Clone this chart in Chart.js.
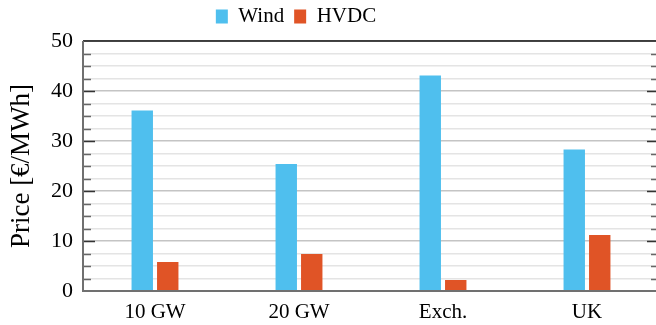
<!DOCTYPE html>
<html>
<head>
<meta charset="utf-8">
<script src="https://cdn.jsdelivr.net/npm/chart.js@4"></script>
<style>
html, body { margin: 0; padding: 0; overflow: hidden; background: #fff; }
#wrap { width: 665px; height: 325px; }
</style>
</head>
<body>
<div id="wrap"><canvas id="chart"></canvas></div>
<script>
// ================= DATA =================
const categories = ["10 GW", "20 GW", "Exch.", "UK"];
const windPrice = [36.1, 25.4, 43.1, 28.3];
const hvdcPrice = [5.8, 7.4, 2.2, 11.2];
const yTicks = [0, 10, 20, 30, 40, 50];

const FONT = "'Liberation Serif', 'Times New Roman', serif";

// ================= FRAME + TICK MARKS =================
const framePlugin = {
id: "frame",
afterLayout(chart){
    // legend sits left of centre in the reference, and a bit higher
    const lg = chart.legend;
    const w = lg.right - lg.left;
    const c = 296;
    lg.left = c - w/2;
    lg.right = c + w/2;
    lg.top -= 4;
    lg.bottom -= 4;
},
afterDraw(chart){
    const ctx = chart.ctx;
    const a = chart.chartArea;
    const y = chart.scales.y;
    ctx.save();

    // minor/major tick marks, inside on both sides
    for(let v = 2.5; v < 50; v += 2.5){
        const py = Math.round(y.getPixelForValue(v)) + 0.5;
        const major = v % 10 === 0;
        const len = major ? 12 : 8;
        ctx.strokeStyle = major ? "#333" : "#666";
        ctx.lineWidth = 1.5;
        ctx.beginPath();
        ctx.moveTo(a.left, py); ctx.lineTo(a.left + len, py);
        ctx.moveTo(a.right, py); ctx.lineTo(a.right - len, py);
        ctx.stroke();
    }

    // top border
    ctx.strokeStyle = "#111";
    ctx.lineWidth = 1.5;
    ctx.beginPath();
    ctx.moveTo(a.left, a.top); ctx.lineTo(a.right, a.top);
    ctx.stroke();

    // left and bottom axis
    ctx.strokeStyle = "#707070";
    ctx.lineWidth = 2;
    ctx.beginPath();
    ctx.moveTo(a.left, a.top); ctx.lineTo(a.left, a.bottom);
    ctx.lineTo(a.right, a.bottom);
    ctx.stroke();

    ctx.restore();
}
};

// ================= CHART =================
new Chart(document.getElementById("chart"), {
type: "bar",
data: {
    labels: categories,
    datasets: [
        { label: "Wind", data: windPrice, backgroundColor: "#4fbfee" },
        { label: "HVDC", data: hvdcPrice, backgroundColor: "#e05426" }
    ]
},
options: {
    responsive: true,
    maintainAspectRatio: false,
    animation: false,
    devicePixelRatio: 1,
    categoryPercentage: 0.354,
    barPercentage: 0.84,
    layout: { padding: { top: 0, right: 6, left: 0, bottom: 0 } },
    plugins: {
        tooltip: { enabled: false },
        legend: {
            position: "top",
            labels: {
                color: "#000",
                font: { family: FONT, size: 21 },
                boxWidth: 12,
                boxHeight: 14,
                padding: 10
            }
        }
    },
    scales: {
        x: {
            grid: { display: false },
            border: { display: false },
            ticks: { color: "#000", font: { family: FONT, size: 21 }, padding: 1 },
            afterFit(s){ s.height = 34; }
        },
        y: {
            min: 0,
            max: 50,
            afterBuildTicks(s){
                const t = [];
                for(let v = 0; v <= 50; v += 2.5) t.push({ value: v });
                s.ticks = t;
            },
            ticks: {
                color: "#000",
                font: { family: FONT, size: 22 },
                padding: 10,
                autoSkip: false,
                callback: v => yTicks.includes(v) ? v : ""
            },
            grid: {
                drawTicks: false,
                lineWidth: 1.5,
                color: c => c.tick && c.tick.value % 10 === 0 ? "#c4c4c4" : "#e4e4e4"
            },
            border: { display: false },
            title: {
                display: true,
                text: "Price [€/MWh]",
                color: "#000",
                font: { family: FONT, size: 27 },
                padding: { top: 6, bottom: 0 }
            },
            afterFit(s){ s.width = 83; }
        }
    }
},
plugins: [framePlugin]
});
</script>
</body>
</html>
